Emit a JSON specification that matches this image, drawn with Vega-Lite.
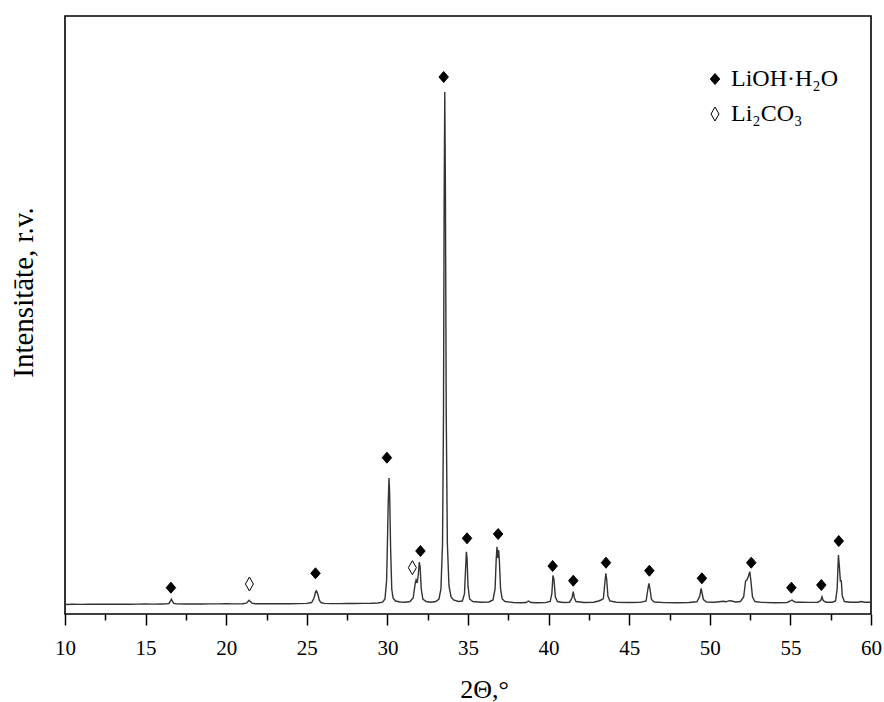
{
  "$schema": "https://vega.github.io/schema/vega-lite/v6.json",
  "autosize": {"type": "none"},
  "padding": {"left": 65, "top": 16, "right": 13, "bottom": 88},
  "width": 806,
  "height": 598,
  "background": "white",
  "datasets": {
    "pattern": [
      {"theta": 10.0, "intensity": 95}, {"theta": 10.5, "intensity": 97}, {"theta": 11.0, "intensity": 96},
      {"theta": 11.5, "intensity": 98}, {"theta": 12.0, "intensity": 97}, {"theta": 12.5, "intensity": 98},
      {"theta": 13.0, "intensity": 97}, {"theta": 13.5, "intensity": 99}, {"theta": 14.0, "intensity": 98},
      {"theta": 14.5, "intensity": 99}, {"theta": 15.0, "intensity": 100}, {"theta": 15.5, "intensity": 99},
      {"theta": 16.0, "intensity": 100}, {"theta": 16.3, "intensity": 101}, {"theta": 16.45, "intensity": 105},
      {"theta": 16.55, "intensity": 130}, {"theta": 16.6, "intensity": 148}, {"theta": 16.65, "intensity": 130},
      {"theta": 16.75, "intensity": 106}, {"theta": 16.9, "intensity": 101}, {"theta": 17.5, "intensity": 100},
      {"theta": 18.0, "intensity": 101}, {"theta": 18.5, "intensity": 100}, {"theta": 19.0, "intensity": 101},
      {"theta": 19.5, "intensity": 101}, {"theta": 20.0, "intensity": 102}, {"theta": 20.5, "intensity": 101},
      {"theta": 21.0, "intensity": 103}, {"theta": 21.25, "intensity": 108}, {"theta": 21.35, "intensity": 125},
      {"theta": 21.42, "intensity": 138}, {"theta": 21.5, "intensity": 124}, {"theta": 21.6, "intensity": 109},
      {"theta": 21.8, "intensity": 103}, {"theta": 22.5, "intensity": 102}, {"theta": 23.0, "intensity": 103},
      {"theta": 23.5, "intensity": 102}, {"theta": 24.0, "intensity": 103}, {"theta": 24.5, "intensity": 104},
      {"theta": 25.0, "intensity": 106}, {"theta": 25.3, "intensity": 115}, {"theta": 25.45, "intensity": 160},
      {"theta": 25.55, "intensity": 225}, {"theta": 25.6, "intensity": 232}, {"theta": 25.68, "intensity": 200},
      {"theta": 25.78, "intensity": 135}, {"theta": 25.9, "intensity": 112}, {"theta": 26.1, "intensity": 106},
      {"theta": 26.5, "intensity": 104}, {"theta": 27.0, "intensity": 104}, {"theta": 27.5, "intensity": 105},
      {"theta": 28.0, "intensity": 105}, {"theta": 28.5, "intensity": 106}, {"theta": 29.0, "intensity": 107},
      {"theta": 29.4, "intensity": 110}, {"theta": 29.7, "intensity": 118}, {"theta": 29.85, "intensity": 150},
      {"theta": 29.95, "intensity": 330}, {"theta": 30.0, "intensity": 700}, {"theta": 30.05, "intensity": 1100},
      {"theta": 30.1, "intensity": 1360}, {"theta": 30.14, "intensity": 1200}, {"theta": 30.2, "intensity": 650},
      {"theta": 30.27, "intensity": 250}, {"theta": 30.35, "intensity": 160}, {"theta": 30.5, "intensity": 130},
      {"theta": 30.8, "intensity": 120}, {"theta": 31.1, "intensity": 118}, {"theta": 31.4, "intensity": 125},
      {"theta": 31.6, "intensity": 160}, {"theta": 31.72, "intensity": 300}, {"theta": 31.78, "intensity": 340},
      {"theta": 31.85, "intensity": 310}, {"theta": 31.92, "intensity": 400}, {"theta": 31.98, "intensity": 520},
      {"theta": 32.03, "intensity": 470}, {"theta": 32.1, "intensity": 250}, {"theta": 32.2, "intensity": 150},
      {"theta": 32.4, "intensity": 125}, {"theta": 32.7, "intensity": 118}, {"theta": 33.0, "intensity": 125},
      {"theta": 33.2, "intensity": 150}, {"theta": 33.32, "intensity": 250}, {"theta": 33.42, "intensity": 700},
      {"theta": 33.48, "intensity": 2000}, {"theta": 33.52, "intensity": 4100}, {"theta": 33.56, "intensity": 5220},
      {"theta": 33.6, "intensity": 4200}, {"theta": 33.65, "intensity": 2000}, {"theta": 33.72, "intensity": 700},
      {"theta": 33.82, "intensity": 280}, {"theta": 33.95, "intensity": 170}, {"theta": 34.1, "intensity": 140},
      {"theta": 34.4, "intensity": 125}, {"theta": 34.65, "intensity": 130}, {"theta": 34.78, "intensity": 200},
      {"theta": 34.85, "intensity": 450}, {"theta": 34.9, "intensity": 623}, {"theta": 34.94, "intensity": 560},
      {"theta": 35.0, "intensity": 280}, {"theta": 35.1, "intensity": 150}, {"theta": 35.3, "intensity": 125},
      {"theta": 35.8, "intensity": 118}, {"theta": 36.3, "intensity": 120}, {"theta": 36.55, "intensity": 140},
      {"theta": 36.68, "intensity": 250}, {"theta": 36.75, "intensity": 550}, {"theta": 36.8, "intensity": 673},
      {"theta": 36.85, "intensity": 560}, {"theta": 36.9, "intensity": 640}, {"theta": 36.95, "intensity": 520},
      {"theta": 37.02, "intensity": 250}, {"theta": 37.12, "intensity": 150}, {"theta": 37.3, "intensity": 125},
      {"theta": 37.8, "intensity": 115}, {"theta": 38.3, "intensity": 113}, {"theta": 38.6, "intensity": 115},
      {"theta": 38.75, "intensity": 130}, {"theta": 38.9, "intensity": 115}, {"theta": 39.3, "intensity": 112},
      {"theta": 39.8, "intensity": 114}, {"theta": 40.1, "intensity": 125}, {"theta": 40.2, "intensity": 200},
      {"theta": 40.27, "intensity": 385}, {"theta": 40.33, "intensity": 350}, {"theta": 40.42, "intensity": 170},
      {"theta": 40.55, "intensity": 125}, {"theta": 40.9, "intensity": 115}, {"theta": 41.3, "intensity": 118},
      {"theta": 41.45, "intensity": 160}, {"theta": 41.53, "intensity": 223}, {"theta": 41.6, "intensity": 160},
      {"theta": 41.7, "intensity": 125}, {"theta": 42.2, "intensity": 115}, {"theta": 42.8, "intensity": 118},
      {"theta": 43.1, "intensity": 130}, {"theta": 43.25, "intensity": 140}, {"theta": 43.4, "intensity": 155},
      {"theta": 43.5, "intensity": 330}, {"theta": 43.55, "intensity": 407}, {"theta": 43.6, "intensity": 350},
      {"theta": 43.68, "intensity": 180}, {"theta": 43.8, "intensity": 130}, {"theta": 44.2, "intensity": 118},
      {"theta": 45.0, "intensity": 115}, {"theta": 45.7, "intensity": 116}, {"theta": 46.05, "intensity": 130},
      {"theta": 46.15, "intensity": 240}, {"theta": 46.22, "intensity": 307}, {"theta": 46.28, "intensity": 260},
      {"theta": 46.38, "intensity": 145}, {"theta": 46.55, "intensity": 120}, {"theta": 47.2, "intensity": 114},
      {"theta": 48.0, "intensity": 113}, {"theta": 48.7, "intensity": 115}, {"theta": 49.2, "intensity": 122},
      {"theta": 49.38, "intensity": 180}, {"theta": 49.46, "intensity": 257}, {"theta": 49.52, "intensity": 210},
      {"theta": 49.6, "intensity": 145}, {"theta": 49.8, "intensity": 120}, {"theta": 50.3, "intensity": 118},
      {"theta": 50.7, "intensity": 125}, {"theta": 50.85, "intensity": 128}, {"theta": 51.0, "intensity": 122},
      {"theta": 51.2, "intensity": 133}, {"theta": 51.35, "intensity": 130}, {"theta": 51.6, "intensity": 120},
      {"theta": 51.9, "intensity": 125}, {"theta": 52.1, "intensity": 170}, {"theta": 52.22, "intensity": 330},
      {"theta": 52.3, "intensity": 340}, {"theta": 52.4, "intensity": 380}, {"theta": 52.48, "intensity": 423},
      {"theta": 52.55, "intensity": 330}, {"theta": 52.65, "intensity": 170}, {"theta": 52.8, "intensity": 125},
      {"theta": 53.2, "intensity": 116}, {"theta": 54.0, "intensity": 113}, {"theta": 54.8, "intensity": 115},
      {"theta": 55.0, "intensity": 130}, {"theta": 55.1, "intensity": 140}, {"theta": 55.22, "intensity": 125},
      {"theta": 55.4, "intensity": 117}, {"theta": 55.7, "intensity": 118}, {"theta": 56.2, "intensity": 116},
      {"theta": 56.7, "intensity": 118}, {"theta": 56.88, "intensity": 135}, {"theta": 56.96, "intensity": 173},
      {"theta": 57.03, "intensity": 135}, {"theta": 57.2, "intensity": 118}, {"theta": 57.6, "intensity": 118},
      {"theta": 57.8, "intensity": 130}, {"theta": 57.9, "intensity": 250}, {"theta": 57.98, "intensity": 590},
      {"theta": 58.04, "intensity": 470}, {"theta": 58.1, "intensity": 330}, {"theta": 58.16, "intensity": 330},
      {"theta": 58.22, "intensity": 180}, {"theta": 58.35, "intensity": 125}, {"theta": 58.7, "intensity": 118},
      {"theta": 59.2, "intensity": 118}, {"theta": 59.4, "intensity": 125}, {"theta": 59.6, "intensity": 118},
      {"theta": 60.0, "intensity": 117}
    ],
    "reflexes": [
      {"theta": 16.57, "intensity": 263, "phase": "LiOH·H₂O"},
      {"theta": 21.44, "intensity": 300, "phase": "Li₂CO₃"},
      {"theta": 25.54, "intensity": 407, "phase": "LiOH·H₂O"},
      {"theta": 29.97, "intensity": 1563, "phase": "LiOH·H₂O"},
      {"theta": 31.55, "intensity": 463, "phase": "Li₂CO₃"},
      {"theta": 32.05, "intensity": 630, "phase": "LiOH·H₂O"},
      {"theta": 33.49, "intensity": 5370, "phase": "LiOH·H₂O"},
      {"theta": 34.94, "intensity": 757, "phase": "LiOH·H₂O"},
      {"theta": 36.87, "intensity": 800, "phase": "LiOH·H₂O"},
      {"theta": 40.25, "intensity": 480, "phase": "LiOH·H₂O"},
      {"theta": 41.53, "intensity": 333, "phase": "LiOH·H₂O"},
      {"theta": 43.56, "intensity": 513, "phase": "LiOH·H₂O"},
      {"theta": 46.25, "intensity": 433, "phase": "LiOH·H₂O"},
      {"theta": 49.51, "intensity": 357, "phase": "LiOH·H₂O"},
      {"theta": 52.57, "intensity": 513, "phase": "LiOH·H₂O"},
      {"theta": 55.06, "intensity": 263, "phase": "LiOH·H₂O"},
      {"theta": 56.92, "intensity": 290, "phase": "LiOH·H₂O"},
      {"theta": 58.0, "intensity": 730, "phase": "LiOH·H₂O"}
    ]
  },
  "layer": [
    {
      "data": {"name": "pattern"},
      "mark": {"type": "line", "color": "#333333", "strokeWidth": 1.4, "interpolate": "linear"},
      "encoding": {
        "x": {
          "field": "theta", "type": "quantitative",
          "scale": {"domain": [10, 60], "nice": false, "zero": false},
          "axis": {
            "title": "2Θ,°",
            "values": [10, 12.5, 15, 17.5, 20, 22.5, 25, 27.5, 30, 32.5, 35, 37.5, 40, 42.5, 45, 47.5, 50, 52.5, 55, 57.5, 60],
            "labelExpr": "datum.value % 5 === 0 ? datum.label : ''",
            "tickSize": {"condition": {"test": "datum.value % 5 === 0", "value": 11}, "value": 6},
            "labelFont": "Liberation Serif",
            "labelFontSize": 21,
            "labelPadding": 12,
            "labelFlush": false,
            "labelOverlap": false,
            "titleFont": "Liberation Serif",
            "titleFontSize": 26,
            "titleX": 419,
            "titleY": 83,
            "titleBaseline": "alphabetic",
            "titleAlign": "center",
            "titleAnchor": null
          }
        },
        "y": {
          "field": "intensity", "type": "quantitative",
          "scale": {"domain": [0, 5980], "nice": false},
          "axis": {
            "title": "Intensitāte, r.v.",
            "labels": false, "ticks": false, "domain": false, "grid": false,
            "titleFont": "Liberation Serif",
            "titleFontSize": 29,
            "titleX": -42,
            "titleY": 276,
            "titleAngle": -90,
            "titleBaseline": "middle",
            "titleAlign": "center",
            "titleAnchor": null
          }
        }
      }
    },
    {
      "data": {"name": "reflexes"},
      "mark": {"type": "point", "filled": true, "size": 100, "strokeWidth": 1, "opacity": 1},
      "encoding": {
        "x": {"field": "theta", "type": "quantitative"},
        "y": {"field": "intensity", "type": "quantitative"},
        "shape": {
          "field": "phase", "type": "nominal",
          "scale": {
            "domain": ["LiOH·H₂O", "Li₂CO₃"],
            "range": ["M0,-1.1L0.95,0L0,1.1L-0.95,0Z", "M0,-1.4L0.8,0L0,1.4L-0.8,0Z"]
          },
          "legend": {
            "title": null,
            "orient": "none",
            "legendX": 638,
            "legendY": 51,
            "padding": 0,
            "labelFont": "Liberation Serif",
            "labelFontSize": 24,
            "labelColor": "black",
            "labelOffset": 4,
            "symbolSize": 100,
            "symbolStrokeWidth": 1,
            "rowPadding": 11
          }
        },
        "fill": {
          "field": "phase", "type": "nominal",
          "scale": {"domain": ["LiOH·H₂O", "Li₂CO₃"], "range": ["black", "transparent"]},
          "legend": {
            "title": null,
            "orient": "none",
            "legendX": 638,
            "legendY": 51,
            "padding": 0,
            "labelFont": "Liberation Serif",
            "labelFontSize": 24,
            "labelColor": "black",
            "labelOffset": 4,
            "symbolSize": 100,
            "symbolStrokeWidth": 1,
            "rowPadding": 11
          }
        },
        "stroke": {
          "field": "phase", "type": "nominal",
          "scale": {"domain": ["LiOH·H₂O", "Li₂CO₃"], "range": ["black", "black"]},
          "legend": {
            "title": null,
            "orient": "none",
            "legendX": 638,
            "legendY": 51,
            "padding": 0,
            "labelFont": "Liberation Serif",
            "labelFontSize": 24,
            "labelColor": "black",
            "labelOffset": 4,
            "symbolSize": 100,
            "symbolStrokeWidth": 1,
            "rowPadding": 11
          }
        }
      }
    }
  ],
  "config": {
    "view": {"stroke": "black", "strokeWidth": 1.6},
    "font": "Liberation Serif",
    "axis": {
      "domain": false,
      "grid": false,
      "tickColor": "black",
      "tickWidth": 1.5,
      "labelFont": "Liberation Serif",
      "labelColor": "black",
      "titleFont": "Liberation Serif",
      "titleFontWeight": "normal",
      "titleColor": "black"
    },
    "legend": {"labelFont": "Liberation Serif"}
  }
}
